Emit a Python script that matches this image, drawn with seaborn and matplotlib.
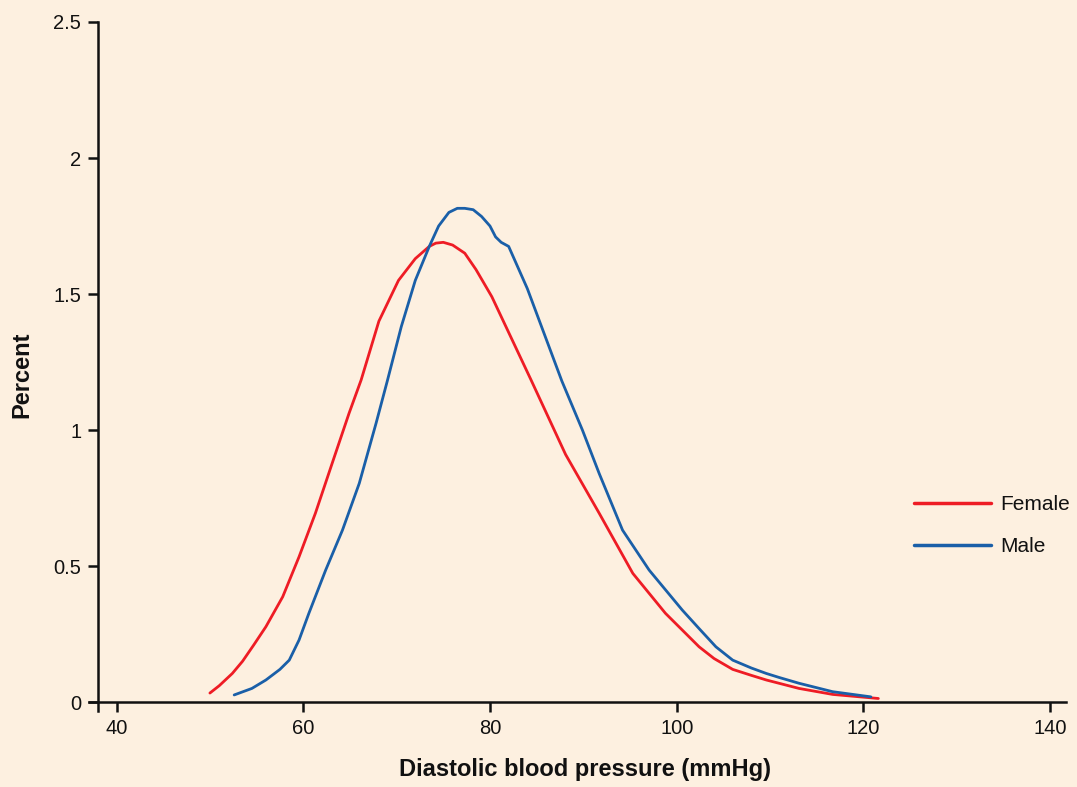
import matplotlib
matplotlib.use("Agg")
import matplotlib.pyplot as plt
import seaborn as sns
import pandas as pd

# ---- data ----
female_x = [50.0, 51.0, 52.4, 53.5, 54.7, 56.0, 57.8, 59.55, 61.3, 63.1, 64.9, 66.2, 68.1,
            70.2, 72.0, 73.5, 74.2, 75.0, 76.0, 77.3, 78.5, 80.2, 84.4, 88.1, 91.7, 95.3,
            98.8, 102.4, 104.0, 106.0, 108.0, 109.6, 113.1, 116.7, 121.6]
female_y = [0.033, 0.06, 0.105, 0.15, 0.21, 0.277, 0.387, 0.534, 0.694, 0.878, 1.061, 1.184, 1.40,
            1.55, 1.63, 1.675, 1.687, 1.69, 1.68, 1.65, 1.59, 1.49, 1.184, 0.91, 0.694, 0.473,
            0.326, 0.203, 0.16, 0.12, 0.098, 0.081, 0.05, 0.028, 0.013]
male_x = [52.6, 54.5, 56.0, 57.5, 58.5, 59.55, 60.6, 62.4, 64.2, 66.0, 67.8, 69.0, 70.5, 72.0,
          73.5, 74.5, 75.6, 76.5, 77.3, 78.2, 79.1, 80.0, 80.6, 81.2, 82.0, 84.0, 87.7, 89.9,
          91.7, 94.2, 97.05, 100.6, 102.4, 104.2, 106.0, 108.0, 109.6, 111.0, 113.1, 116.7, 120.8]
male_y = [0.026, 0.05, 0.081, 0.12, 0.154, 0.228, 0.326, 0.485, 0.632, 0.804, 1.025, 1.18, 1.38, 1.55,
          1.675, 1.75, 1.80, 1.815, 1.815, 1.81, 1.785, 1.75, 1.71, 1.69, 1.675, 1.52, 1.18, 1.0,
          0.84, 0.632, 0.485, 0.338, 0.27, 0.203, 0.154, 0.125, 0.105, 0.09, 0.069, 0.038, 0.019]
series_names = ["Female", "Male"]
x_ticks = [40, 60, 80, 100, 120, 140]
y_ticks = [0, 0.5, 1, 1.5, 2, 2.5]
y_tick_labels = ["0", "0.5", "1", "1.5", "2", "2.5"]

df = pd.concat([
    pd.DataFrame({"x": female_x, "y": female_y, "sex": series_names[0]}),
    pd.DataFrame({"x": male_x, "y": male_y, "sex": series_names[1]}),
], ignore_index=True)

BG = "#fdf0e0"
sns.set_theme(style="ticks")
plt.rcParams["font.family"] = ["Liberation Sans", "DejaVu Sans"]

fig = plt.figure(figsize=(10.77, 7.87), dpi=100, facecolor=BG)
ax = fig.add_axes([89 / 1077, 1 - 711 / 787, 977 / 1077, 689 / 787])
ax.set_facecolor(BG)

sns.lineplot(data=df, x="x", y="y", hue="sex", palette={"Female": "#ee1c25", "Male": "#1a5fa8"},
             linewidth=2.0, sort=False, estimator=None, ax=ax, legend=True)
for ln in ax.get_lines():
    ln.set_solid_joinstyle("round")
    ln.set_solid_capstyle("round")

ax.set_xlim(37.05, 141.7)
ax.set_ylim(-0.033, 2.5)
ax.spines["left"].set_position(("data", 38.0))
ax.spines["bottom"].set_position(("data", 0.0))
for s in ["top", "right"]:
    ax.spines[s].set_visible(False)
for s in ["left", "bottom"]:
    ax.spines[s].set_linewidth(1.8)
    ax.spines[s].set_color("#111111")

ax.set_xticks(x_ticks)
ax.set_yticks(y_ticks)
ax.set_yticklabels(y_tick_labels)
ax.tick_params(axis="both", direction="out", length=7, width=1.8, color="#111111",
               labelsize=14.5, labelcolor="#111111", pad=5)

ax.set_xlabel("Diastolic blood pressure (mmHg)", fontsize=17, fontweight="bold", color="#111111")
ax.set_ylabel("Percent", fontsize=17, fontweight="bold", color="#111111")
ax.xaxis.set_label_coords((585 - 89) / 977, (711 - 758) / 689)
ax.yaxis.set_label_coords((33 - 89) / 977, (711 - 375) / 689)

handles, labels = ax.get_legend_handles_labels()
leg = ax.legend(handles, labels, loc="upper left", bbox_to_anchor=((914 - 89) / 977, (711 - 495) / 689),
                frameon=False, fontsize=15, handlelength=3.7, handletextpad=0.45,
                labelspacing=1.12, borderpad=0, borderaxespad=0)
for t in leg.get_texts():
    t.set_color("#111111")
for l in leg.get_lines():
    l.set_linewidth(2.5)

fig.savefig("out.png", dpi=100, facecolor=BG)
